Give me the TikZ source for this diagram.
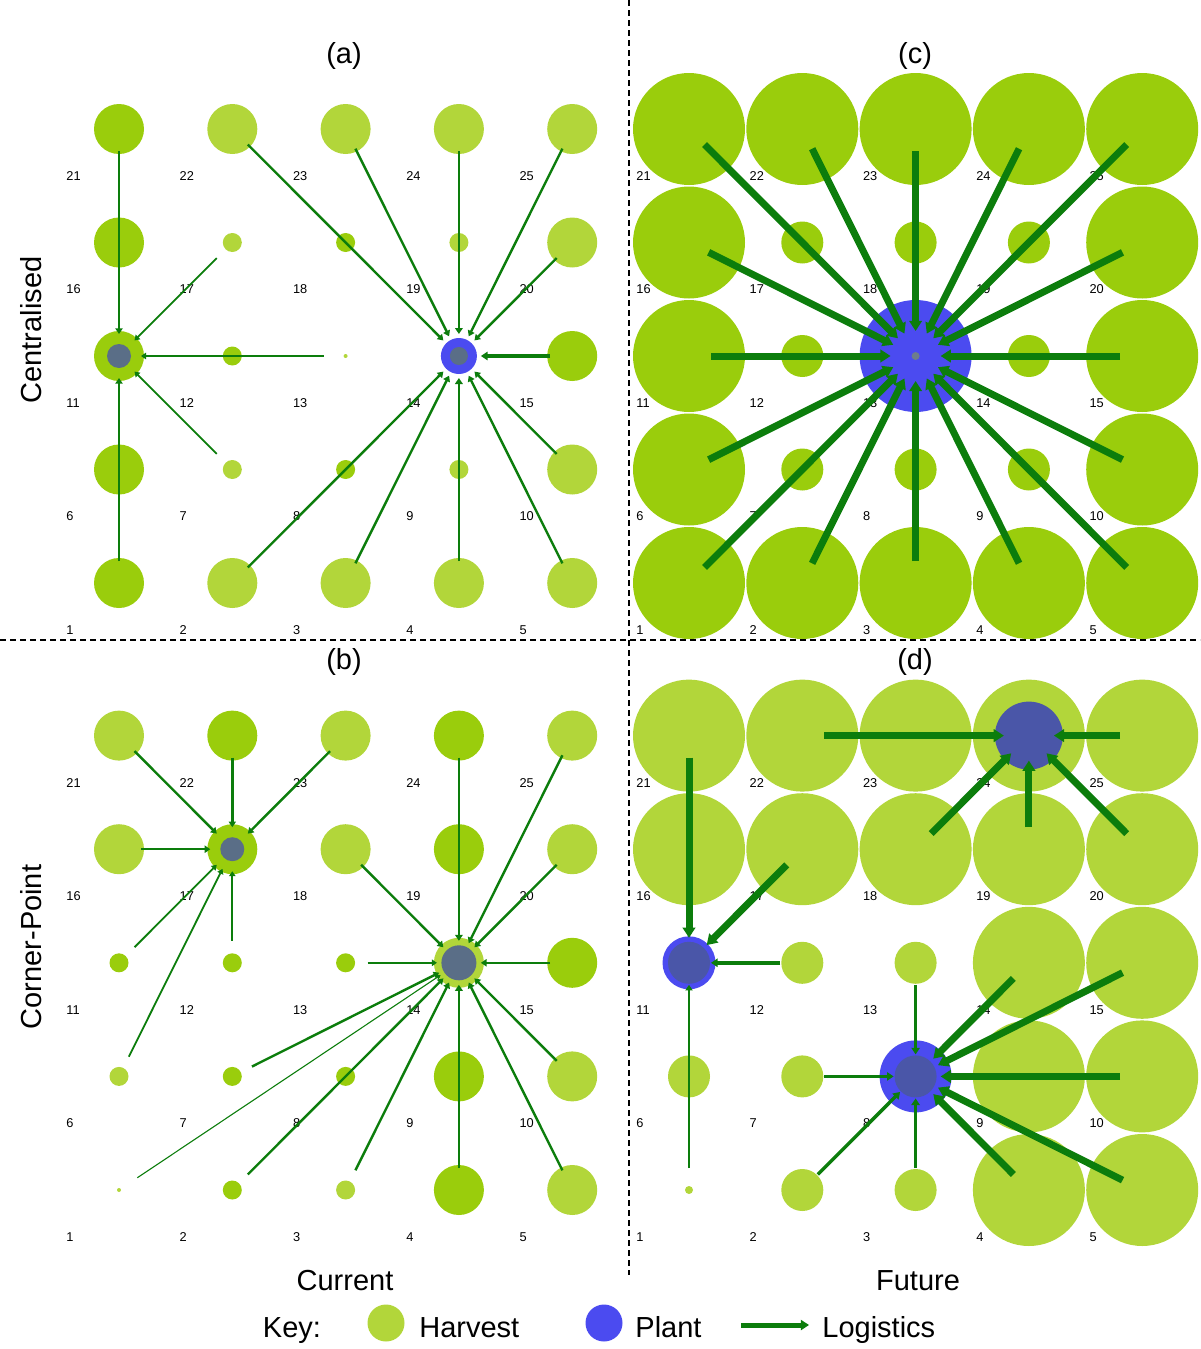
\documentclass[tikz,border=0pt]{standalone}
\usepackage{fontspec}
\setmainfont{Liberation Sans}
\usetikzlibrary{arrows.meta}
\definecolor{harvestlight}{RGB}{178,214,58}
\definecolor{harvestdark}{RGB}{154,205,12}
\definecolor{plantblue}{RGB}{75,75,240}
\definecolor{coreslate}{RGB}{90,110,135}
\definecolor{coredeep}{RGB}{74,86,168}
\definecolor{coregrey}{RGB}{110,125,140}
\definecolor{logigreen}{RGB}{12,125,12}
\tikzset{
    crop/.style={circle, inner sep=0pt, fill=harvestlight},
    cropdark/.style={crop, fill=harvestdark},
    plant/.style={circle, inner sep=0pt, fill=plantblue},
    core/.style={circle, inner sep=0pt, fill=coreslate},
    cellnum/.style={anchor=west, inner sep=0pt, font=\fontsize{6.4}{7}\selectfont},
    heading/.style={inner sep=0pt, font=\fontsize{14.5}{17}\selectfont},
    flow/.style={draw=logigreen, line width=1.2pt, -{Triangle[length=1.6pt 1, width=2.2pt 1.15]},
                 shorten <=11pt, shorten >=11pt},
    flowhair/.style={flow, line width=0.55pt},
    flowthin/.style={flow, line width=0.9pt},
    flowmid/.style={flow, line width=1.7pt},
    flowthick/.style={flow, line width=3.5pt, shorten >=12.5pt},
    divider/.style={dash pattern=on 3pt off 2pt, line width=0.6pt}
}

\begin{document}
\begin{tikzpicture}[x=0.5pt, y=-0.5pt]
    \useasboundingbox (0,0) rectangle (1200,1349);

    % Cell numbers
    \foreach \p/\ox/\oy in {a/119/583, c/689/583, b/119/1190, d/689/1190}
        \foreach \n in {1,...,25}
            \node[cellnum] (num-\p\n) at ({\ox+113.3*mod(\n-1,5)-53}, {\oy-113.5*int((\n-1)/5)+47}) {\n};

    % Dividers
    \coordinate (hl) at (0,640);
    \coordinate (hr) at (1200,640);
    \coordinate (vt) at (629,0);
    \coordinate (vb) at (629,1275);
    \draw[divider] (hl) -- (hr);
    \draw[divider] (vt) -- (vb);

    % (a) current, centralised
    \foreach \n/\r/\s in {1/25/cropdark, 2/25/crop, 3/25/crop, 4/25/crop, 5/25/crop,
                          6/25/cropdark, 7/9.5/crop, 8/9.5/cropdark, 9/9.5/crop, 10/25/crop,
                          11/25/cropdark, 12/9.5/cropdark, 13/2/crop, 14/11/crop, 15/25/cropdark,
                          16/25/cropdark, 17/9.5/crop, 18/9.5/cropdark, 19/9.5/crop, 20/25/crop,
                          21/25/cropdark, 22/25/crop, 23/25/crop, 24/25/crop, 25/25/crop}
        \node[\s, minimum size={\r*1pt}] (a\n) at ({119+113.3*mod(\n-1,5)}, {583-113.5*int((\n-1)/5)}) {};
    \node[core, minimum size=12pt] (a11p) at (a11) {};
    \node[plant, minimum size=18pt] (a14p) at (a14) {};
    \node[core, minimum size=9pt] (a14c) at (a14) {};

    % (c) future, centralised
    \foreach \n/\r in {1/56, 2/56, 3/56, 4/56, 5/56, 6/56, 7/21, 8/21, 9/21, 10/56,
                       11/56, 12/21, 13/4, 14/21, 15/56, 16/56, 17/21, 18/21, 19/21, 20/56,
                       21/56, 22/56, 23/56, 24/56, 25/56}
        \node[cropdark, minimum size={\r*1pt}] (c\n) at ({689+113.3*mod(\n-1,5)}, {583-113.5*int((\n-1)/5)}) {};
    \node[plant, minimum size=56pt] (c13p) at (c13) {};
    \node[core, fill=coregrey, minimum size=4pt] (c13c) at (c13) {};

    % (b) current, corner-point
    \foreach \n/\r/\s in {1/2/crop, 2/9.5/cropdark, 3/9.5/crop, 4/25/cropdark, 5/25/crop,
                          6/9.5/crop, 7/9.5/cropdark, 8/9.5/cropdark, 9/25/cropdark, 10/25/crop,
                          11/9.5/cropdark, 12/9.5/cropdark, 13/9.5/cropdark, 14/25/crop, 15/25/cropdark,
                          16/25/crop, 17/25/cropdark, 18/25/crop, 19/25/cropdark, 20/25/crop,
                          21/25/crop, 22/25/cropdark, 23/25/crop, 24/25/cropdark, 25/25/crop}
        \node[\s, minimum size={\r*1pt}] (b\n) at ({119+113.3*mod(\n-1,5)}, {1190-113.6*int((\n-1)/5)}) {};
    \node[core, minimum size=12pt] (b17p) at (b17) {};
    \node[core, minimum size=17.5pt] (b14p) at (b14) {};

    % (d) future, corner-point
    \foreach \n/\r in {1/4, 2/21, 3/21, 4/56, 5/56, 6/21, 7/21, 8/21, 9/56, 10/56,
                       11/21, 12/21, 13/21, 14/56, 15/56, 16/56, 17/56, 18/56, 19/56, 20/56,
                       21/56, 22/56, 23/56, 24/56, 25/56}
        \node[crop, minimum size={\r*1pt}] (d\n) at ({689+113.3*mod(\n-1,5)}, {1190-113.6*int((\n-1)/5)}) {};
    \node[core, fill=coredeep, minimum size=34pt] (d24p) at (d24) {};
    \node[plant, minimum size=26.5pt] (d11p) at (d11) {};
    \node[core, fill=coredeep, minimum size=21pt] (d11c) at (d11) {};
    \node[plant, minimum size=36pt] (d8p) at (d8) {};
    \node[core, fill=coredeep, minimum size=21pt] (d8c) at (d8) {};

    % Logistics (a)
    \foreach \s in {21,1} \draw[flow] (a\s.center) -- (a11.center);
    \foreach \s in {17,13,7} \draw[flowthin] (a\s.center) -- (a11.center);
    \foreach \s in {22,23,25,20,10,5,3,2} \draw[flow] (a\s.center) -- (a14.center);
    \foreach \s in {24,4} \draw[flow, line width=1.4pt] (a\s.center) -- (a14.center);
    \draw[flowmid] (a15.center) -- (a14.center);

    % Logistics (c)
    \foreach \s in {1,2,3,4,5,6,10,11,15,16,20,21,22,23,24,25}
        \draw[flowthick] (c\s.center) -- (c13.center);

    % Logistics (b)
    \foreach \s in {21,22,23,16} \draw[flow] (b\s.center) -- (b17.center);
    \foreach \s in {11,6,12} \draw[flowthin] (b\s.center) -- (b17.center);
    \foreach \s in {25,18,20,15,10,5,3,2,7} \draw[flow] (b\s.center) -- (b14.center);
    \foreach \s in {24,4} \draw[flow, line width=1.4pt] (b\s.center) -- (b14.center);
    \draw[flowthin] (b13.center) -- (b14.center);
    \draw[flowhair] (b1.center) -- (b14.center);

    % Logistics (d)
    \foreach \s in {22,25,18,19,20} \draw[flowthick] (d\s.center) -- (d24.center);
    \foreach \s in {21,17} \draw[flowthick] (d\s.center) -- (d11.center);
    \draw[flowmid] (d12.center) -- (d11.center);
    \draw[flow] (d1.center) -- (d11.center);
    \foreach \s in {14,15,10,5,4} \draw[flowthick] (d\s.center) -- (d8.center);
    \foreach \s in {13,3,2,7} \draw[flowmid] (d\s.center) -- (d8.center);

    % Headings
    \node[heading] (ta) at (344,56) {(a)};
    \node[heading] (tc) at (915,56) {(c)};
    \node[heading] (tb) at (344,662) {(b)};
    \node[heading] (td) at (915,662) {(d)};
    \node[heading, rotate=90] (rowa) at (31,330) {Centralised};
    \node[heading, rotate=90] (rowb) at (31,947) {Corner-Point};
    \node[heading, anchor=base] (cola) at (345,1290) {Current};
    \node[heading, anchor=base] (colb) at (918,1290) {Future};

    % Key
    \node[heading, anchor=base] (key) at (292,1337) {Key:};
    \node[crop, minimum size=18.5pt] (keyharvest) at (386,1323) {};
    \node[heading, anchor=base west] (keyharvestlab) at (419,1337) {Harvest};
    \node[plant, minimum size=18.5pt] (keyplant) at (604,1323) {};
    \node[heading, anchor=base west] (keyplantlab) at (635,1337) {Plant};
    \coordinate (keyflowa) at (741,1325);
    \coordinate (keyflowb) at (809,1325);
    \draw[flow, line width=2.5pt, shorten <=0pt, shorten >=0pt] (keyflowa) -- (keyflowb);
    \node[heading, anchor=base west] (keyflowlab) at (822,1337) {Logistics};
\end{tikzpicture}
\end{document}
